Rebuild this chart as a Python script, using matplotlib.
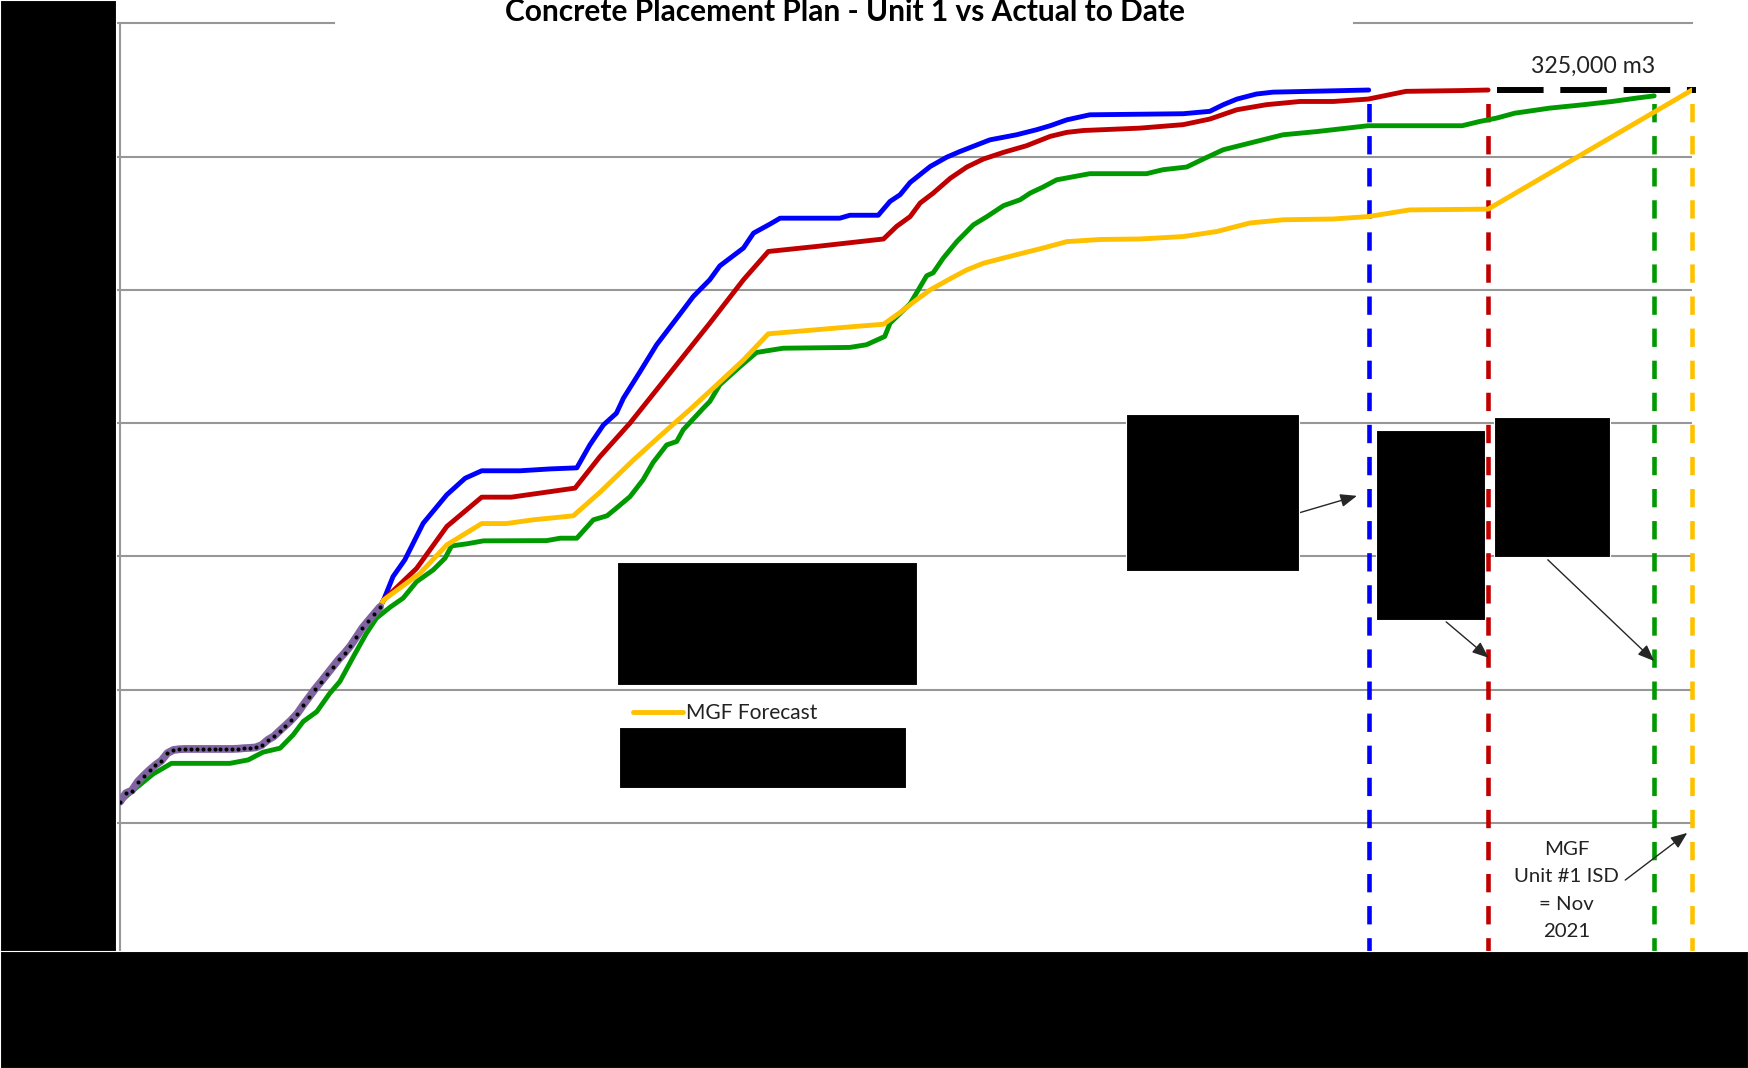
import matplotlib
matplotlib.use("Agg")
import matplotlib.pyplot as plt
from matplotlib.patches import Rectangle

plt.rcParams["font.family"] = ["Lato", "DejaVu Sans"]

W, H = 1748, 1068   # output size in px (dpi 100)

# ---- data: x = weeks since first pour, y = cumulative m3 ----
actual_wk = list(range(45))
actual_m3 = [57900, 61100, 62100, 65400, 67700, 69800, 71700, 73300, 76100, 77300,
             77600, 77700, 77700, 77700, 77700, 77700, 77700, 77700, 77700, 77700,
             77800, 78000, 78100, 78300, 79200, 81100, 82400, 84500, 86500, 88600,
             91000, 94200, 97200, 100200, 102900, 105700, 108500, 111300, 113700, 116400,
             119700, 123100, 125800, 128400, 131000]

# plans follow the actual to date, then split
blue_wk = [44.6, 46.2, 48.2, 51.3, 55.3, 58.4, 61.2, 67.7, 72.8, 77.3,
           79.5, 81.8, 84.0, 85.2, 88.0, 90.8, 95.3, 97.0, 99.8, 101.5,
           105.5, 107.2, 110.0, 111.7, 121.8, 123.5, 128.3, 130.3, 132.0, 133.7,
           137.1, 139.9, 142.1, 147.2, 151.7, 155.1, 157.4, 160.2, 164.1, 179.9,
           184.4, 186.7, 189.0, 192.3, 195.1, 211.3]
blue_m3 = [133600, 142400, 148700, 162400, 173100, 179300, 182100, 182100, 182800, 183200,
           191800, 199300, 203700, 209400, 219300, 229400, 242500, 247500, 253800, 259000,
           265700, 271300, 274700, 276900, 276900, 278000, 278000, 283200, 285700, 290300,
           296300, 299800, 301900, 306300, 308200, 310100, 311600, 313800, 315700, 316100,
           317000, 319500, 321600, 323500, 324200, 325000]

red_wk = [44.6, 50.2, 55.3, 61.2, 66.2, 71.6, 77.0, 81.2, 86.3, 90.8,
          95.3, 99.8, 105.5, 109.7, 117.9, 129.2, 131.4, 133.7, 135.4, 137.6,
          140.5, 143.3, 146.1, 149.5, 153.4, 157.4, 160.2, 163.0, 172.6, 179.9,
          184.4, 189.0, 194.0, 199.7, 205.3, 211.2, 217.6, 227.1, 231.5]
red_m3 = [133600, 145500, 161200, 172200, 172200, 173900, 175600, 187400, 200000, 212500,
          225000, 237500, 253800, 264400, 266300, 269100, 273800, 277500, 282600, 286300,
          291900, 296100, 299100, 301600, 304100, 307600, 309100, 309800, 310700, 312000,
          314100, 317600, 319500, 320700, 320700, 321600, 324500, 324800, 325000]

green_wk = [0, 2.3, 5.6, 8.7, 18.6, 21.7, 24.2, 27.1, 29.3, 31.0,
            33.3, 35.5, 37.2, 39.8, 41.7, 43.4, 45.7, 47.9, 50.2, 53.0,
            55.0, 56.1, 58.7, 61.5, 72.2, 74.5, 77.3, 80.1, 82.4, 84.0,
            86.3, 88.5, 90.2, 92.5, 94.2, 95.3, 98.7, 99.8, 101.5, 104.9,
            107.7, 112.2, 123.5, 126.3, 129.4, 130.3, 133.7, 136.5, 137.6, 139.3,
            141.6, 144.4, 146.7, 149.5, 152.3, 154.0, 156.2, 158.5, 164.1, 173.7,
            176.5, 180.5, 183.3, 186.7, 191.2, 196.8, 202.5, 211.2, 227.1, 230.1,
            233.0, 236.0, 241.9, 247.7, 252.5, 256.7, 259.6]
green_m3 = [57900, 62300, 68300, 72300, 72300, 73600, 76500, 78000, 83000, 88000,
            91700, 98600, 103000, 113600, 121100, 126800, 130900, 134300, 140500, 144900,
            149300, 153900, 154700, 155800, 155900, 156800, 156800, 163700, 165200, 168100,
            172400, 178700, 185200, 191800, 193100, 197500, 205600, 208100, 214400, 221200,
            226500, 228100, 228400, 229400, 232500, 237500, 244800, 255300, 256400, 261900,
            268100, 274400, 277500, 281600, 283800, 286300, 288600, 291300, 293600, 293600,
            295100, 296100, 299100, 302600, 305100, 308200, 309400, 311600, 311600, 313200,
            314500, 316300, 318200, 319500, 320700, 322000, 322800]

yellow_wk = [44.6, 50.8, 55.3, 61.2, 65.4, 69.9, 76.7, 81.2, 86.9, 91.9,
             96.4, 101.0, 105.5, 109.7, 123.5, 129.2, 132.0, 134.8, 137.1, 140.5,
             143.3, 146.1, 151.7, 156.2, 160.2, 165.8, 172.6, 179.9, 185.6, 191.2,
             196.8, 205.3, 211.2, 218.2, 231.5, 266.0]
yellow_m3 = [133600, 143700, 154300, 162300, 162300, 163700, 165200, 174000, 186200, 196200,
             205000, 214400, 223700, 233500, 236100, 237100, 241500, 246300, 250000, 254200,
             257500, 260000, 263200, 265700, 268100, 268900, 269100, 270000, 271900, 275100,
             276300, 276600, 277500, 280000, 280300, 325000]

total_m3 = 325000
total_wk = [233.0, 266.6]

C_BLUE, C_RED, C_GREEN, C_YEL = "#0000FF", "#C00000", "#009A00", "#FFC000"
C_ACT = "#8064A2"
GRID = "#979797"

fig = plt.figure(figsize=(W / 100, H / 100), dpi=100)
fig.patch.set_facecolor("white")
ax = fig.add_axes([120 / W, 1 - 956 / H, 1572 / W, (956 - 23.4) / H])
ax.set_xlim(0, 266)
ax.set_ylim(0, 350000)

for sp in ["top", "right", "bottom"]:
    ax.spines[sp].set_visible(False)
ax.spines["left"].set_color(GRID)
ax.spines["left"].set_linewidth(1.5)
ax.set_yticks(range(0, 350001, 50000))
ax.set_yticklabels([])
ax.set_xticks([])
ax.tick_params(axis="y", length=3, width=1.5, color=GRID)

# gridlines; top one is broken by the title box
for v in range(50000, 300001, 50000):
    ax.axhline(v, color=GRID, lw=1.5, zorder=0)
ax.axhline(350000, xmin=0, xmax=0.136, color=GRID, lw=1.5, zorder=0, clip_on=False)
ax.axhline(350000, xmin=0.785, xmax=1.0, color=GRID, lw=1.5, zorder=0, clip_on=False)

lw = 3.5
style = dict(lw=lw, solid_joinstyle="round", solid_capstyle="round")
ax.plot(actual_wk + blue_wk, actual_m3 + blue_m3, color=C_BLUE, zorder=3, **style)
ax.plot(actual_wk + red_wk, actual_m3 + red_m3, color=C_RED, zorder=3, **style)
ax.plot(green_wk, green_m3, color=C_GREEN, zorder=3, **style)
yel, = ax.plot(actual_wk + yellow_wk, actual_m3 + yellow_m3, color=C_YEL,
               zorder=4, label="MGF Forecast", **style)
ax.plot(actual_wk, actual_m3, color=C_ACT, lw=5.6, marker="o", ms=2.9,
        mfc="black", mec="black", mew=0, zorder=5, solid_capstyle="round")

# finish milestones
for wk, m3, c in [(blue_wk[-1], blue_m3[-1], C_BLUE), (red_wk[-1], red_m3[-1], C_RED),
                  (green_wk[-1], green_m3[-1], C_GREEN), (yellow_wk[-1], yellow_m3[-1], C_YEL)]:
    ax.plot([wk, wk], [0, m3], color=c, lw=3.3, dashes=(4, 3), zorder=2, clip_on=False)

ax.plot(total_wk, [total_m3, total_m3], color="black", lw=4.3, dashes=(7.8, 2.8),
        zorder=2, clip_on=False)
ax.text(sum(total_wk) / 2 - 0.5, total_m3 + 5000, "325,000 m3", ha="center", va="bottom",
        fontsize=16.7, color="#222222")

ax.text(244.8, 24500, "MGF\nUnit #1 ISD\n= Nov\n2021", ha="center", va="center",
        fontsize=14.7, color="#222222", linespacing=1.75)

arrow = dict(arrowstyle="-|>,head_length=1.0,head_width=0.4", mutation_scale=10,
             lw=1.0, color="#262626", shrinkA=0, shrinkB=0)
ax.annotate("", xy=(265.2, 46200), xytext=(254.7, 28500), arrowprops=arrow)
ax.annotate("", xy=(209.3, 172700), xytext=(199.5, 166300), arrowprops=arrow)
ax.annotate("", xy=(231.6, 111900), xytext=(224.4, 125400), arrowprops=arrow)
ax.annotate("", xy=(259.6, 110700), xytext=(241.6, 148700), arrowprops=arrow)

ax.legend(handles=[yel], loc="center left", bbox_to_anchor=(633 / W, 1 - 713 / H),
          bbox_transform=fig.transFigure, frameon=False, borderpad=0, borderaxespad=0,
          handlelength=2.4, handletextpad=0.15, fontsize=15.1, labelcolor="#222222")

fig.text(845 / W, 1 - 12 / H, "Concrete Placement Plan - Unit 1 vs Actual to Date",
         ha="center", va="center", fontsize=21.5, fontweight="bold", color="black")

# redaction boxes (px: x0, y0, x1, y1)
boxes = [(0, 0, 116, H), (0, 951, W, H),
         (617, 562, 917, 685), (619, 727, 906, 788),
         (1126, 414, 1299, 571), (1376, 430, 1485, 620), (1494, 417, 1610, 557)]
for x0, y0, x1, y1 in boxes:
    fig.patches.append(Rectangle((x0 / W, 1 - y1 / H), (x1 - x0) / W, (y1 - y0) / H,
                                 transform=fig.transFigure, facecolor="black",
                                 edgecolor="white", lw=0.8, zorder=10))

fig.savefig("out.png", dpi=100, facecolor="white")
